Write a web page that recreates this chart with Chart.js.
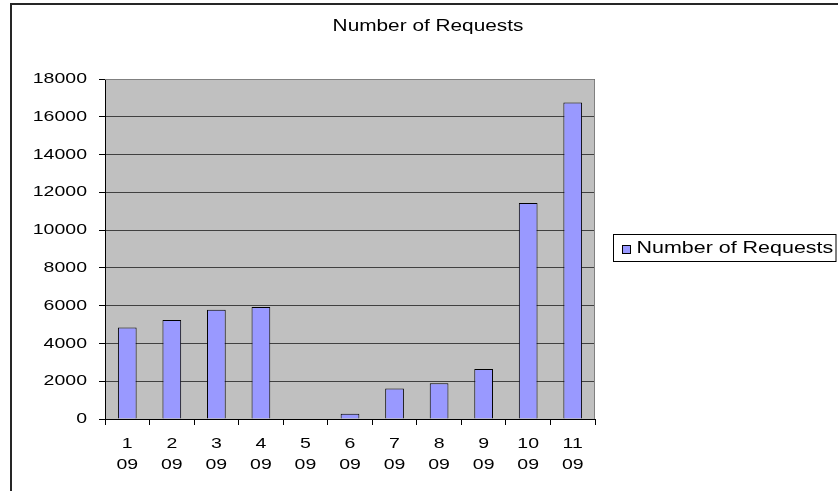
<!DOCTYPE html>
<html>
<head>
<meta charset="utf-8">
<style>
  html, body { margin: 0; padding: 0; background: #fff; }
  #wrap { width: 838px; height: 491px; }
</style>
<script src="https://cdn.jsdelivr.net/npm/chart.js@4/dist/chart.umd.min.js"></script>
</head>
<body>
<div id="wrap"><canvas id="requestsChart" width="838" height="491"></canvas></div>
<script>
// data
const months = ['1', '2', '3', '4', '5', '6', '7', '8', '9', '10', '11'];
const years = ['09', '09', '09', '09', '09', '09', '09', '09', '09', '09', '09'];
const requests = [4850, 5240, 5790, 5930, 0, 280, 1620, 1890, 2650, 11430, 16760];
const yTicks = [0, 2000, 4000, 6000, 8000, 10000, 12000, 14000, 16000, 18000];

const seriesName = 'Number of Requests';
const chartTitle = 'Number of Requests';
const fontFamily = "'Liberation Sans', Arial, sans-serif";

// two-line x labels: month over year
const labels = months.map((m, i) => [m, years[i]]);

const ctx = document.getElementById('requestsChart').getContext('2d');

// the source picture is a horizontally stretched Excel chart, so widen all text a bit
const textStretch = 1.3;
const rawFillText = ctx.fillText.bind(ctx);
ctx.fillText = function (text, x, y) {
    this.save();
    this.translate(x, y);
    this.scale(textStretch, 1);
    rawFillText(text, 0, 0);
    this.restore();
};

// grey plot area, outer frame, title and the boxed legend (Excel look)
const excelLook = {
    id: 'excelLook',
    beforeDraw(chart) {
        const { ctx, chartArea: a } = chart;
        ctx.save();
        ctx.fillStyle = '#C0C0C0';
        ctx.fillRect(a.left, a.top, a.right - a.left, a.bottom - a.top);
        ctx.restore();
    },
    beforeDatasetsDraw(chart) {
        const { ctx, chartArea: a } = chart;
        ctx.save();
        ctx.strokeStyle = '#808080';
        ctx.lineWidth = 1;
        ctx.beginPath();
        ctx.moveTo(a.left, a.top + 0.5);
        ctx.lineTo(a.right - 0.5, a.top + 0.5);
        ctx.lineTo(a.right - 0.5, a.bottom);
        ctx.stroke();
        ctx.restore();
    },
    afterDraw(chart) {
        const { ctx, chartArea: a } = chart;
        const ds = chart.data.datasets[0];
        ctx.save();
        // outer frame (only top and left are inside the picture)
        ctx.strokeStyle = '#262626';
        ctx.lineWidth = 2;
        ctx.beginPath();
        ctx.moveTo(11, chart.height);
        ctx.lineTo(11, 4);
        ctx.lineTo(chart.width, 4);
        ctx.stroke();

        // title, centred on the frame
        ctx.fillStyle = '#000';
        ctx.font = '16px ' + fontFamily;
        ctx.textAlign = 'center';
        ctx.textBaseline = 'middle';
        ctx.fillText(chartTitle, (chart.width + 18) / 2, 27);

        // legend box
        const boxX = a.right + 18.5;
        const boxY = (a.top + a.bottom) / 2 - 14.5;
        const boxW = chart.width - boxX - 2;
        ctx.lineWidth = 1;
        ctx.strokeStyle = '#000';
        ctx.fillStyle = '#fff';
        ctx.fillRect(boxX, boxY, boxW, 27);
        ctx.strokeRect(boxX, boxY, boxW, 27);
        ctx.fillStyle = ds.backgroundColor;
        ctx.fillRect(boxX + 9, boxY + 11, 8, 8);
        ctx.strokeRect(boxX + 9, boxY + 11, 8, 8);
        ctx.fillStyle = '#000';
        ctx.font = '16.5px ' + fontFamily;
        ctx.textAlign = 'left';
        ctx.fillText(ds.label, boxX + 23, boxY + 14);
        ctx.restore();
    }
};

new Chart(ctx, {
    type: 'bar',
    data: {
        labels: labels,
        datasets: [
            {
                label: seriesName,
                data: requests,
                backgroundColor: '#9999FF',
                borderColor: '#000000',
                borderWidth: 1,
                barPercentage: 0.42,
                categoryPercentage: 1
            }
        ]
    },
    options: {
        responsive: false,
        animation: false,
        layout: {
            padding: { top: 79, right: 243, bottom: 0, left: 0 }
        },
        scales: {
            x: {
                grid: {
                    offset: true,
                    drawOnChartArea: false,
                    drawTicks: true,
                    tickLength: 6,
                    color: '#000'
                },
                border: { color: '#000', width: 1 },
                ticks: {
                    color: '#000',
                    padding: 8,
                    maxRotation: 0,
                    autoSkip: false,
                    font: { family: fontFamily, size: 15, lineHeight: 1.4 }
                },
                afterFit(scale) { scale.height = 72; }
            },
            y: {
                min: 0,
                max: 18000,
                afterBuildTicks(scale) {
                    scale.ticks = yTicks.map(v => ({ value: v }));
                },
                grid: {
                    color: '#404040',
                    lineWidth: 1,
                    tickLength: 6,
                    tickColor: '#000'
                },
                border: { color: '#000', width: 1 },
                ticks: {
                    color: '#000',
                    padding: 12,
                    font: { family: fontFamily, size: 15 },
                    callback: v => String(v)
                },
                afterFit(scale) { scale.width = 105; }
            }
        },
        plugins: {
            legend: { display: false },
            tooltip: { enabled: false },
            title: { display: false }
        }
    },
    plugins: [excelLook]
});
</script>
</body>
</html>
